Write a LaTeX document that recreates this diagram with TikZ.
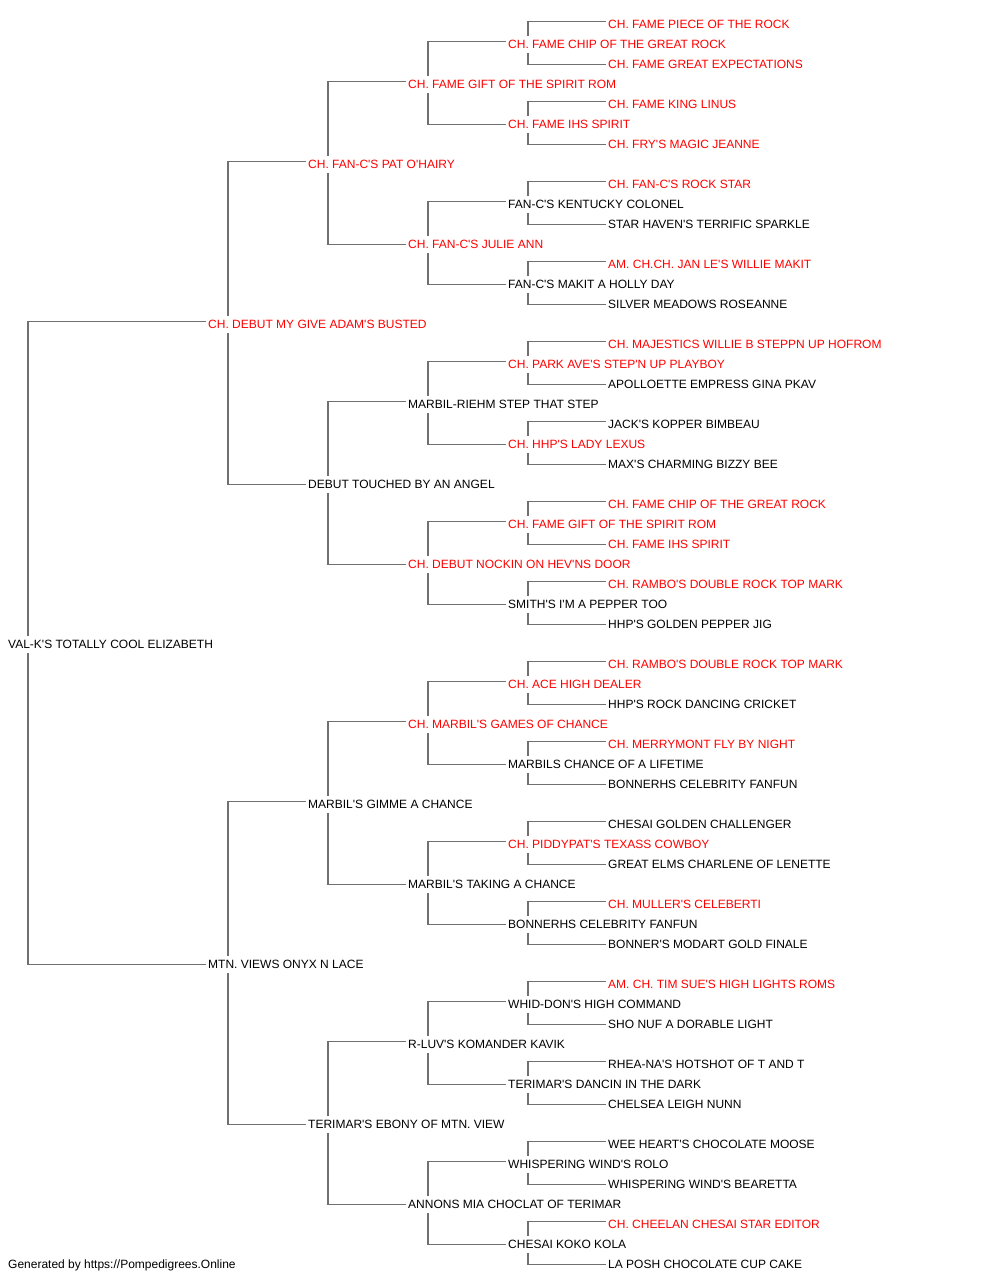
\documentclass[tikz,border=0pt]{standalone}
\usepackage{fontspec}
\setmainfont{Liberation Sans}[Ligatures=TeXOff]
\definecolor{linecol}{RGB}{112,112,112}
\definecolor{redname}{RGB}{255,0,0}
\tikzset{
  nm/.style={anchor=base west, inner xsep=3pt, inner ysep=0pt, font=\fontsize{12}{14}\selectfont, text=black},
  ch/.style={nm, text=redname},
  conn/.style={draw=linecol, line width=1.5pt, line cap=rect}
}
\newcommand\lnk[3]{%
  \draw[conn] ([shift={(23,-13)}]#1.base west) |- ([shift={(0,-6.5)}]#2.base west);
  \draw[conn] ([shift={(23,6)}]#1.base west) |- ([shift={(0,-3.5)}]#3.base west);
}
\newcommand\pn[4]{\node[#1] (#2) at (#3) {#4};}
\begin{document}
\begin{tikzpicture}[x=1pt,y=-1pt]
\useasboundingbox (0,0) rectangle (1000,1280);
% level 0
\pn{nm}{n1}{5,648}{VAL-K'S TOTALLY COOL ELIZABETH}
% level 1
\pn{ch}{n2}{205,328}{CH. DEBUT MY GIVE ADAM'S BUSTED}
\pn{nm}{n3}{205,968}{MTN. VIEWS ONYX N LACE}
% level 2
\pn{ch}{n4}{305,168}{CH. FAN-C'S PAT O'HAIRY}
\pn{nm}{n5}{305,488}{DEBUT TOUCHED BY AN ANGEL}
\pn{nm}{n6}{305,808}{MARBIL'S GIMME A CHANCE}
\pn{nm}{n7}{305,1128}{TERIMAR'S EBONY OF MTN. VIEW}
% level 3
\pn{ch}{n8}{405,88}{CH. FAME GIFT OF THE SPIRIT ROM}
\pn{ch}{n9}{405,248}{CH. FAN-C'S JULIE ANN}
\pn{nm}{n10}{405,408}{MARBIL-RIEHM STEP THAT STEP}
\pn{ch}{n11}{405,568}{CH. DEBUT NOCKIN ON HEV'NS DOOR}
\pn{ch}{n12}{405,728}{CH. MARBIL'S GAMES OF CHANCE}
\pn{nm}{n13}{405,888}{MARBIL'S TAKING A CHANCE}
\pn{nm}{n14}{405,1048}{R-LUV'S KOMANDER KAVIK}
\pn{nm}{n15}{405,1208}{ANNONS MIA CHOCLAT OF TERIMAR}
% level 4
\pn{ch}{n16}{505,48}{CH. FAME CHIP OF THE GREAT ROCK}
\pn{ch}{n17}{505,128}{CH. FAME IHS SPIRIT}
\pn{nm}{n18}{505,208}{FAN-C'S KENTUCKY COLONEL}
\pn{nm}{n19}{505,288}{FAN-C'S MAKIT A HOLLY DAY}
\pn{ch}{n20}{505,368}{CH. PARK AVE'S STEP'N UP PLAYBOY}
\pn{ch}{n21}{505,448}{CH. HHP'S LADY LEXUS}
\pn{ch}{n22}{505,528}{CH. FAME GIFT OF THE SPIRIT ROM}
\pn{nm}{n23}{505,608}{SMITH'S I'M A PEPPER TOO}
\pn{ch}{n24}{505,688}{CH. ACE HIGH DEALER}
\pn{nm}{n25}{505,768}{MARBILS CHANCE OF A LIFETIME}
\pn{ch}{n26}{505,848}{CH. PIDDYPAT'S TEXASS COWBOY}
\pn{nm}{n27}{505,928}{BONNERHS CELEBRITY FANFUN}
\pn{nm}{n28}{505,1008}{WHID-DON'S HIGH COMMAND}
\pn{nm}{n29}{505,1088}{TERIMAR'S DANCIN IN THE DARK}
\pn{nm}{n30}{505,1168}{WHISPERING WIND'S ROLO}
\pn{nm}{n31}{505,1248}{CHESAI KOKO KOLA}
% level 5
\pn{ch}{n32}{605,28}{CH. FAME PIECE OF THE ROCK}
\pn{ch}{n33}{605,68}{CH. FAME GREAT EXPECTATIONS}
\pn{ch}{n34}{605,108}{CH. FAME KING LINUS}
\pn{ch}{n35}{605,148}{CH. FRY'S MAGIC JEANNE}
\pn{ch}{n36}{605,188}{CH. FAN-C'S ROCK STAR}
\pn{nm}{n37}{605,228}{STAR HAVEN'S TERRIFIC SPARKLE}
\pn{ch}{n38}{605,268}{AM. CH.CH. JAN LE'S WILLIE MAKIT}
\pn{nm}{n39}{605,308}{SILVER MEADOWS ROSEANNE}
\pn{ch}{n40}{605,348}{CH. MAJESTICS WILLIE B STEPPN UP HOFROM}
\pn{nm}{n41}{605,388}{APOLLOETTE EMPRESS GINA PKAV}
\pn{nm}{n42}{605,428}{JACK'S KOPPER BIMBEAU}
\pn{nm}{n43}{605,468}{MAX'S CHARMING BIZZY BEE}
\pn{ch}{n44}{605,508}{CH. FAME CHIP OF THE GREAT ROCK}
\pn{ch}{n45}{605,548}{CH. FAME IHS SPIRIT}
\pn{ch}{n46}{605,588}{CH. RAMBO'S DOUBLE ROCK TOP MARK}
\pn{nm}{n47}{605,628}{HHP'S GOLDEN PEPPER JIG}
\pn{ch}{n48}{605,668}{CH. RAMBO'S DOUBLE ROCK TOP MARK}
\pn{nm}{n49}{605,708}{HHP'S ROCK DANCING CRICKET}
\pn{ch}{n50}{605,748}{CH. MERRYMONT FLY BY NIGHT}
\pn{nm}{n51}{605,788}{BONNERHS CELEBRITY FANFUN}
\pn{nm}{n52}{605,828}{CHESAI GOLDEN CHALLENGER}
\pn{nm}{n53}{605,868}{GREAT ELMS CHARLENE OF LENETTE}
\pn{ch}{n54}{605,908}{CH. MULLER'S CELEBERTI}
\pn{nm}{n55}{605,948}{BONNER'S MODART GOLD FINALE}
\pn{ch}{n56}{605,988}{AM. CH. TIM SUE'S HIGH LIGHTS ROMS}
\pn{nm}{n57}{605,1028}{SHO NUF A DORABLE LIGHT}
\pn{nm}{n58}{605,1068}{RHEA-NA'S HOTSHOT OF T AND T}
\pn{nm}{n59}{605,1108}{CHELSEA LEIGH NUNN}
\pn{nm}{n60}{605,1148}{WEE HEART'S CHOCOLATE MOOSE}
\pn{nm}{n61}{605,1188}{WHISPERING WIND'S BEARETTA}
\pn{ch}{n62}{605,1228}{CH. CHEELAN CHESAI STAR EDITOR}
\pn{nm}{n63}{605,1268}{LA POSH CHOCOLATE CUP CAKE}
% footer
\pn{nm}{foot}{5,1268}{Generated by https://Pompedigrees.Online}
% connectors
\lnk{n1}{n2}{n3}
\lnk{n2}{n4}{n5}
\lnk{n3}{n6}{n7}
\lnk{n4}{n8}{n9}
\lnk{n5}{n10}{n11}
\lnk{n6}{n12}{n13}
\lnk{n7}{n14}{n15}
\lnk{n8}{n16}{n17}
\lnk{n9}{n18}{n19}
\lnk{n10}{n20}{n21}
\lnk{n11}{n22}{n23}
\lnk{n12}{n24}{n25}
\lnk{n13}{n26}{n27}
\lnk{n14}{n28}{n29}
\lnk{n15}{n30}{n31}
\lnk{n16}{n32}{n33}
\lnk{n17}{n34}{n35}
\lnk{n18}{n36}{n37}
\lnk{n19}{n38}{n39}
\lnk{n20}{n40}{n41}
\lnk{n21}{n42}{n43}
\lnk{n22}{n44}{n45}
\lnk{n23}{n46}{n47}
\lnk{n24}{n48}{n49}
\lnk{n25}{n50}{n51}
\lnk{n26}{n52}{n53}
\lnk{n27}{n54}{n55}
\lnk{n28}{n56}{n57}
\lnk{n29}{n58}{n59}
\lnk{n30}{n60}{n61}
\lnk{n31}{n62}{n63}
\end{tikzpicture}
\end{document}
